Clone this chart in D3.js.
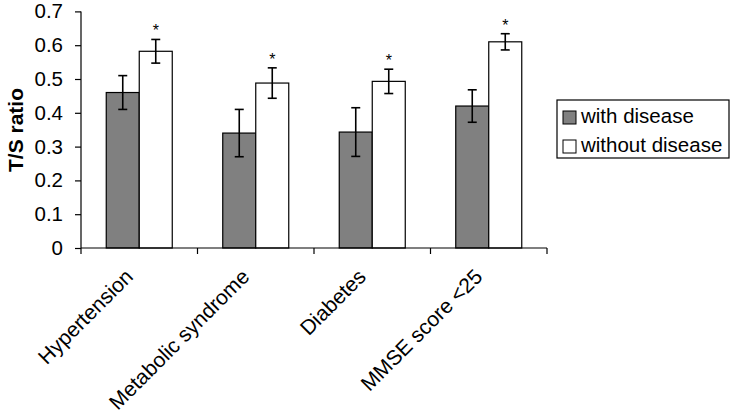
<!DOCTYPE html>
<html>
<head>
<meta charset="utf-8">
<script src="https://cdn.jsdelivr.net/npm/d3@7"></script>
<style>
  body { margin: 0; background: #fff; }
  svg { display: block; font-family: Arial, "Liberation Sans", sans-serif; }
</style>
</head>
<body>
<div id="chart"></div>
<script>
'use strict';

// values
var categories = ['Hypertension', 'Metabolic syndrome', 'Diabetes', 'MMSE score <25'];
var seriesNames = ['with disease', 'without disease'];
var withDisease = [0.46, 0.34, 0.343, 0.42];
var withDiseaseErr = [0.05, 0.07, 0.072, 0.048];
var withoutDisease = [0.582, 0.488, 0.493, 0.61];
var withoutDiseaseErr = [0.035, 0.045, 0.036, 0.024];
var yTicks = [0, 0.1, 0.2, 0.3, 0.4, 0.5, 0.6, 0.7];
var fills = ['#808080', '#ffffff'];

var width = 732, height = 413;
var margin = {left: 81, top: 11.4, right: 185, bottom: 165};

var svg = d3.select('#chart').append('svg')
  .attr('width', width)
  .attr('height', height);

var x = d3.scaleBand()
  .domain(categories)
  .range([margin.left, width - margin.right]);

var xInner = d3.scaleBand()
  .domain(seriesNames)
  .range([0, x.bandwidth()])
  .paddingInner(0)
  .paddingOuter(0.765);

var y = d3.scaleLinear()
  .domain([0, 0.7])
  .range([height - margin.bottom, margin.top]);

// rows: one per bar
var rows = [];
categories.forEach(function(c, i) {
  rows.push({cat: c, s: 0, v: withDisease[i], e: withDiseaseErr[i], star: false});
  rows.push({cat: c, s: 1, v: withoutDisease[i], e: withoutDiseaseErr[i], star: true});
});

//Bars.
svg.append('g').selectAll('rect')
  .data(rows)
  .enter().append('rect')
  .attr('x', function(d) { return x(d.cat) + xInner(seriesNames[d.s]); })
  .attr('y', function(d) { return y(d.v); })
  .attr('width', xInner.bandwidth())
  .attr('height', function(d) { return y(0) - y(d.v); })
  .attr('fill', function(d) { return fills[d.s]; })
  .attr('stroke', '#000')
  .attr('stroke-width', 1.2);

//Error bars.
var eb = svg.append('g').attr('stroke', '#000').attr('stroke-width', 1.6);
rows.forEach(function(d) {
  var cx = x(d.cat) + xInner(seriesNames[d.s]) + xInner.bandwidth() / 2;
  eb.append('line').attr('x1', cx).attr('x2', cx)
    .attr('y1', y(d.v + d.e)).attr('y2', y(d.v - d.e));
  eb.append('line').attr('x1', cx - 4.5).attr('x2', cx + 4.5)
    .attr('y1', y(d.v + d.e)).attr('y2', y(d.v + d.e));
  eb.append('line').attr('x1', cx - 4.5).attr('x2', cx + 4.5)
    .attr('y1', y(d.v - d.e)).attr('y2', y(d.v - d.e));
  if (d.star) {
    svg.append('text')
      .attr('x', cx)
      .attr('y', y(d.v + d.e) - 3)
      .attr('text-anchor', 'middle')
      .attr('font-size', 16)
      .text('*');
  }
});

//Y axis.
var yAxis = svg.append('g')
  .attr('transform', 'translate(' + margin.left + ',0)')
  .call(d3.axisLeft(y).tickValues(yTicks).tickSize(6).tickPadding(12)
    .tickFormat(function(d) { return d === 0 ? '0' : d3.format('.1f')(d); }));
yAxis.selectAll('text').attr('font-size', 20.5).attr('fill', '#000')
  .attr('font-family', 'Arial, "Liberation Sans", sans-serif');
yAxis.selectAll('line, path').attr('stroke', '#000').attr('stroke-width', 1.2);
yAxis.select('.domain').attr('d', 'M0,' + y(0) + 'V' + y(0.7));

//X axis, ticks sit between categories.
var bounds = categories.map(function(c) { return x(c); }).concat([x.range()[1]]);
var xg = svg.append('g').attr('stroke', '#000').attr('stroke-width', 1.2);
xg.append('line')
  .attr('x1', x.range()[0]).attr('x2', x.range()[1])
  .attr('y1', y(0)).attr('y2', y(0));
xg.selectAll('.tk')
  .data(bounds)
  .enter().append('line')
  .attr('x1', function(d) { return d; }).attr('x2', function(d) { return d; })
  .attr('y1', y(0)).attr('y2', y(0) + 6);

svg.append('g').selectAll('text')
  .data(categories)
  .enter().append('text')
  .attr('transform', function(d) {
    return 'translate(' + (x(d) + x.bandwidth() / 2 - 5) + ',' + (y(0) + 30) + ') rotate(-45)';
  })
  .attr('text-anchor', 'end')
  .attr('font-size', 21)
  .text(function(d) { return d; });

//Y title.
svg.append('text')
  .attr('transform', 'translate(23,' + 130 + ') rotate(-90)')
  .attr('text-anchor', 'middle')
  .attr('font-size', 21)
  .attr('font-weight', 'bold')
  .text('T/S ratio');

//Legend.
var lg = svg.append('g').attr('transform', 'translate(557,100)');
lg.append('rect')
  .attr('width', 172).attr('height', 58)
  .attr('fill', '#fff').attr('stroke', '#000').attr('stroke-width', 1.2);
seriesNames.forEach(function(s, i) {
  lg.append('rect')
    .attr('x', 6).attr('y', 11 + i * 29)
    .attr('width', 13).attr('height', 13)
    .attr('fill', fills[i]).attr('stroke', '#000').attr('stroke-width', 1);
  lg.append('text')
    .attr('x', 24).attr('y', 23 + i * 29)
    .attr('font-size', 20.5)
    .text(s);
});
</script>
</body>
</html>
